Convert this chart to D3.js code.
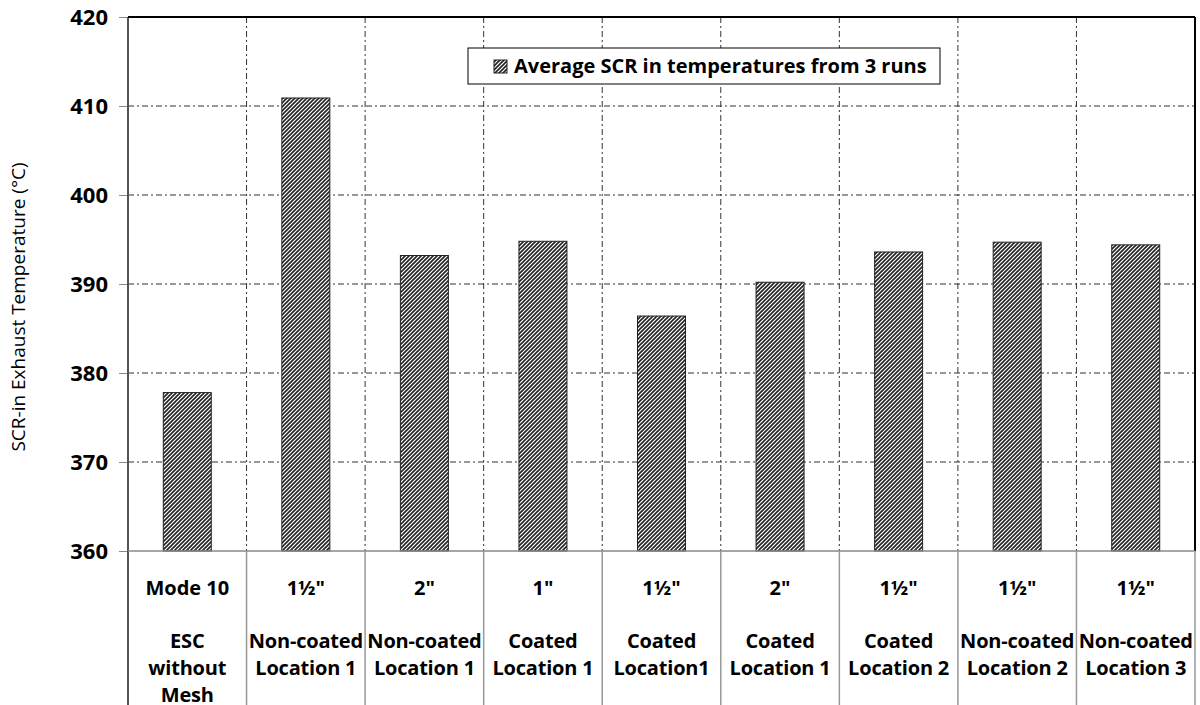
<!DOCTYPE html>
<html>
<head>
<meta charset="utf-8">
<script src="https://cdn.jsdelivr.net/npm/d3@7"></script>
<style>
  body { margin: 0; background: #fff; }
  text { font-family: "Open Sans", Lato, sans-serif; fill: #000; }
</style>
</head>
<body>
<div id="chart"></div>
<script>
// data
const sizes = ["Mode 10", "1½\"", "2\"", "1\"", "1½\"", "2\"", "1½\"", "1½\"", "1½\""];
const kinds = [["ESC", "without", "Mesh"], ["Non-coated", "Location 1"], ["Non-coated", "Location 1"],
               ["Coated", "Location 1"], ["Coated", "Location1"], ["Coated", "Location 1"],
               ["Coated", "Location 2"], ["Non-coated", "Location 2"], ["Non-coated", "Location 3"]];
const temps = [377.8, 410.9, 393.2, 394.8, 386.4, 390.2, 393.6, 394.7, 394.4];
const yTicks = [360, 370, 380, 390, 400, 410, 420];

const W = 1200, H = 705;
const margin = {top: 17, right: 5, bottom: 154, left: 128};
const width = W - margin.left - margin.right,
      height = H - margin.top - margin.bottom;

const svg = d3.select("#chart").append("svg")
    .attr("width", W).attr("height", H);

// hatch pattern
const defs = svg.append("defs");
defs.append("pattern")
    .attr("id", "hatch")
    .attr("patternUnits", "userSpaceOnUse")
    .attr("width", 4).attr("height", 4)
  .call(p => {
    p.append("rect").attr("width", 4).attr("height", 4).attr("fill", "#fff");
    p.append("path").attr("d", "M-1,1 l2,-2 M0,4 l4,-4 M3,5 l2,-2")
      .attr("stroke", "#222").attr("stroke-width", 1.6);
  });

const g = svg.append("g").attr("transform", `translate(${margin.left},${margin.top})`);

const idx = d3.range(temps.length);
const x = d3.scaleBand().domain(idx).range([0, width]);
const y = d3.scaleLinear().domain([360, 420]).range([height, 0]);

// grid
g.append("g").selectAll("line").data(yTicks.slice(1, -1)).join("line")
    .attr("x1", 0).attr("x2", width)
    .attr("y1", d => y(d)).attr("y2", d => y(d))
    .attr("stroke", "#333").attr("stroke-dasharray", "6,3,2,3");
g.append("g").selectAll("line").data(idx.slice(1)).join("line")
    .attr("x1", d => x(d)).attr("x2", d => x(d))
    .attr("y1", 0).attr("y2", height)
    .attr("stroke", "#333").attr("stroke-dasharray", "6,3,2,3");

// bars
const bw = 48;
g.append("g").selectAll("rect").data(idx).join("rect")
    .attr("x", d => x(d) + x.bandwidth() / 2 - bw / 2)
    .attr("width", bw)
    .attr("y", d => y(temps[d]))
    .attr("height", d => height - y(temps[d]))
    .attr("fill", "url(#hatch)")
    .attr("stroke", "#222").attr("stroke-width", 1);

// y axis
const yAxis = g.append("g").call(d3.axisLeft(y).tickValues(yTicks).tickSize(9).tickPadding(11));
yAxis.select(".domain").remove();
yAxis.selectAll(".tick line").attr("stroke", "#888");
yAxis.selectAll(".tick text").style("font-size", "22px").style("font-weight", "bold");
g.append("line").attr("x1", 0).attr("x2", 0).attr("y1", 0).attr("y2", H - margin.top)
    .attr("stroke", "#555").attr("stroke-width", 2);

// frame
g.append("line").attr("x1", 0).attr("x2", width).attr("y1", 0).attr("y2", 0)
    .attr("stroke", "#000").attr("stroke-width", 2);
g.append("line").attr("x1", width).attr("x2", width).attr("y1", 0).attr("y2", height)
    .attr("stroke", "#000").attr("stroke-width", 2);
g.append("line").attr("x1", 0).attr("x2", width).attr("y1", height).attr("y2", height)
    .attr("stroke", "#888").attr("stroke-width", 1.5);

// category table below
g.append("g").selectAll("line").data(idx.slice(1).concat([temps.length])).join("line")
    .attr("x1", d => d < temps.length ? x(d) : width)
    .attr("x2", d => d < temps.length ? x(d) : width)
    .attr("y1", height).attr("y2", H - margin.top)
    .attr("stroke", "#999").attr("stroke-width", 1.5);

const lab = g.append("g").selectAll("g").data(idx).join("g")
    .attr("transform", d => `translate(${x(d) + x.bandwidth() / 2},${height})`);
lab.append("text")
    .attr("y", 44).attr("text-anchor", "middle")
    .style("font-size", "20px").style("font-weight", "bold")
    .text(d => sizes[d]);
lab.each(function(d) {
  d3.select(this).selectAll("text.k").data(kinds[d]).join("text")
    .attr("class", "k")
    .attr("y", (t, i) => 97 + i * 27).attr("text-anchor", "middle")
    .style("font-size", "20px").style("font-weight", "bold")
    .style("letter-spacing", "-0.2px")
    .text(t => t);
});

// y label
svg.append("text")
    .attr("transform", "translate(25,307) rotate(-90)")
    .attr("text-anchor", "middle")
    .style("font-size", "19px")
    .text("SCR-in Exhaust Temperature (°C)");

// legend
const lg = svg.append("g").attr("transform", "translate(468,48)");
lg.append("rect").attr("width", 472).attr("height", 36)
    .attr("fill", "#fff").attr("stroke", "#000").attr("stroke-width", 1);
lg.append("rect").attr("x", 26).attr("y", 12).attr("width", 13).attr("height", 13)
    .attr("fill", "url(#hatch)").attr("stroke", "#222");
lg.append("text").attr("x", 46).attr("y", 25)
    .style("font-size", "20px").style("font-weight", "bold")
    .text("Average SCR in temperatures from 3 runs");
</script>
</body>
</html>
